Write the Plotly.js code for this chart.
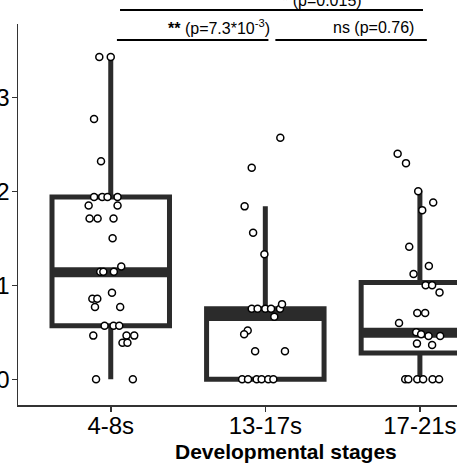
<!DOCTYPE html>
<html>
<head>
<meta charset="utf-8">
<script src="https://cdn.plot.ly/plotly-3.0.1.min.js"></script>
<style>
html,body{margin:0;padding:0;background:#fff;overflow:hidden;}
#chart{width:457px;height:465px;}
</style>
</head>
<body>
<div id="chart"></div>
<script>
// ---- Data ----
const stages = ["4-8s", "13-17s", "17-21s"];
const stagePos = [1, 2, 3];

// box statistics per stage
const q1Values     = [0.57, 0.00, 0.28];
const medianValues = [1.14, 0.675, 0.495];
const q3Values     = [1.94, 0.75, 1.03];
const lowerWhisker = [0.00, 0.00, 0.00];
const upperWhisker = [3.45, 1.84, 2.01];

// individual observations (value) and their horizontal jitter (in category units)
const stage1Values = [3.43, 3.43, 2.77, 2.32, 1.94, 1.94, 1.94, 1.94, 1.85, 1.85, 1.71, 1.71, 1.71, 1.50, 1.20, 1.145, 1.145, 1.145, 0.92, 0.857, 0.857, 0.77, 0.77, 0.57, 0.57, 0.57, 0.465, 0.465, 0.465, 0.39, 0.39, 0.00, 0.00];
const stage1Jitter = [-0.074, 0.000, -0.108, -0.063, -0.108, -0.055, -0.021, 0.044, -0.143, 0.044, -0.137, -0.085, 0.018, 0.012, 0.068, -0.068, -0.048, 0.020, 0.008, -0.119, -0.087, -0.102, 0.061, -0.040, 0.018, 0.055, -0.113, 0.102, 0.152, 0.076, 0.108, -0.095, 0.143];

const stage2Values = [2.57, 2.25, 1.84, 1.56, 1.33, 0.75, 0.75, 0.75, 0.75, 0.75, 0.80, 0.666, 0.52, 0.48, 0.30, 0.30, 0.00, 0.00, 0.00, 0.00, 0.00, 0.00];
const stage2Jitter = [0.097, -0.088, -0.134, -0.079, -0.006, -0.088, -0.050, 0.000, 0.037, 0.095, 0.108, 0.058, -0.114, -0.137, -0.066, 0.127, -0.150, -0.112, -0.056, -0.024, 0.019, 0.052];

const stage3Values = [2.40, 2.30, 2.00, 1.88, 1.80, 1.41, 1.205, 1.12, 1.00, 1.00, 0.925, 0.705, 0.705, 0.60, 0.50, 0.48, 0.46, 0.46, 0.38, 0.365, 0.00, 0.00, 0.00, 0.00, 0.00, 0.00];
const stage3Jitter = [-0.144, -0.090, -0.011, 0.086, 0.015, -0.069, 0.058, -0.041, 0.037, 0.079, 0.127, -0.017, 0.034, -0.135, -0.024, 0.008, 0.056, 0.131, -0.019, 0.079, -0.095, -0.075, -0.017, 0.021, 0.082, 0.124];

// pairwise comparisons
const compPairs  = [[1, 2], [2, 3], [1, 3]];
const compLabels = ["<b>**</b> (p=7.3*10<sup>-3</sup>)", "ns (p=0.76)", "<b>*</b> (p=0.015)"];

const xAxisTitle = "Developmental stages";

// ---- Styling ----
const boxColor = "#2b2b2b";
const boxWidth = 0.76;
const font = "Liberation Sans, Arial, sans-serif";

const traces = [];

// boxes
stagePos.forEach((p, i) => {
  traces.push({
    type: "box",
    x: [p],
    q1: [q1Values[i]],
    median: [medianValues[i]],
    q3: [q3Values[i]],
    lowerfence: [lowerWhisker[i]],
    upperfence: [upperWhisker[i]],
    width: boxWidth,
    whiskerwidth: 0,
    boxpoints: false,
    fillcolor: "#ffffff",
    line: {color: boxColor, width: 5},
    hoverinfo: "skip",
    showlegend: false
  });
});

// thick median bars (ggplot fatten)
stagePos.forEach((p, i) => {
  traces.push({
    type: "scatter",
    mode: "lines",
    x: [p - boxWidth / 2, p + boxWidth / 2],
    y: [medianValues[i], medianValues[i]],
    line: {color: boxColor, width: 10},
    hoverinfo: "skip",
    showlegend: false
  });
});

// jittered points
const groups = [[stage1Values, stage1Jitter], [stage2Values, stage2Jitter], [stage3Values, stage3Jitter]];
groups.forEach((g, i) => {
  traces.push({
    type: "scatter",
    mode: "markers",
    x: g[1].map(d => stagePos[i] + d),
    y: g[0],
    marker: {size: 7, color: "#ffffff", line: {color: "#000000", width: 1.5}},
    cliponaxis: false,
    hoverinfo: "skip",
    showlegend: false
  });
});

// comparison brackets (paper y, data x)
const bracketY = [0.958, 0.958, 1.0367];
const bracketX = [[1.04, 2.02], [2.065, 3.045], [1.06, 3.02]];
const shapes = compPairs.map((pair, k) => ({
  type: "line", xref: "x", yref: "paper",
  x0: bracketX[k][0], x1: bracketX[k][1],
  y0: bracketY[k], y1: bracketY[k],
  line: {color: "#000000", width: 2}
}));

const annotations = [
  {text: compLabels[0], xref: "x", yref: "paper", x: 2.044, y: 0.991, xanchor: "right", yanchor: "middle", showarrow: false, font: {family: font, size: 16, color: "#000"}},
  {text: compLabels[1], xref: "x", yref: "paper", x: 2.976, y: 0.991, xanchor: "right", yanchor: "middle", showarrow: false, font: {family: font, size: 16, color: "#000"}},
  {text: compLabels[2], xref: "x", yref: "paper", x: 2.095, y: 1.062, xanchor: "left", yanchor: "middle", showarrow: false, font: {family: font, size: 16, color: "#000"}},
  {text: "<b>" + xAxisTitle + "</b>", xref: "paper", yref: "paper", x: 0.610, y: -0.121, xanchor: "center", yanchor: "middle", showarrow: false, font: {family: font, size: 21, color: "#000"}}
];

const layout = {
  width: 457, height: 465,
  margin: {l: 18, r: 0, t: 24, b: 60, pad: 0},
  paper_bgcolor: "#ffffff", plot_bgcolor: "#ffffff",
  showlegend: false,
  font: {family: font, color: "#000"},
  xaxis: {
    range: [0.4, 3.24], tickvals: stagePos, ticktext: stages,
    showgrid: false, zeroline: false, showline: true, linecolor: "#333", linewidth: 1.5,
    ticks: "outside", ticklen: 5, tickwidth: 1.5, tickcolor: "#333", ticklabelstandoff: -6,
    tickfont: {family: font, size: 24, color: "#000"}, automargin: false
  },
  yaxis: {
    range: [-0.273, 3.78], tickvals: [0, 1, 2, 3],
    showgrid: false, zeroline: false, showline: true, linecolor: "#333", linewidth: 1.5,
    ticks: "outside", ticklen: 5, tickwidth: 1.5, tickcolor: "#333", ticklabelstandoff: -3,
    tickfont: {family: font, size: 24, color: "#000"}, automargin: false
  },
  shapes: shapes,
  annotations: annotations
};

Plotly.newPlot("chart", traces, layout, {staticPlot: true, displayModeBar: false});
</script>
</body>
</html>
